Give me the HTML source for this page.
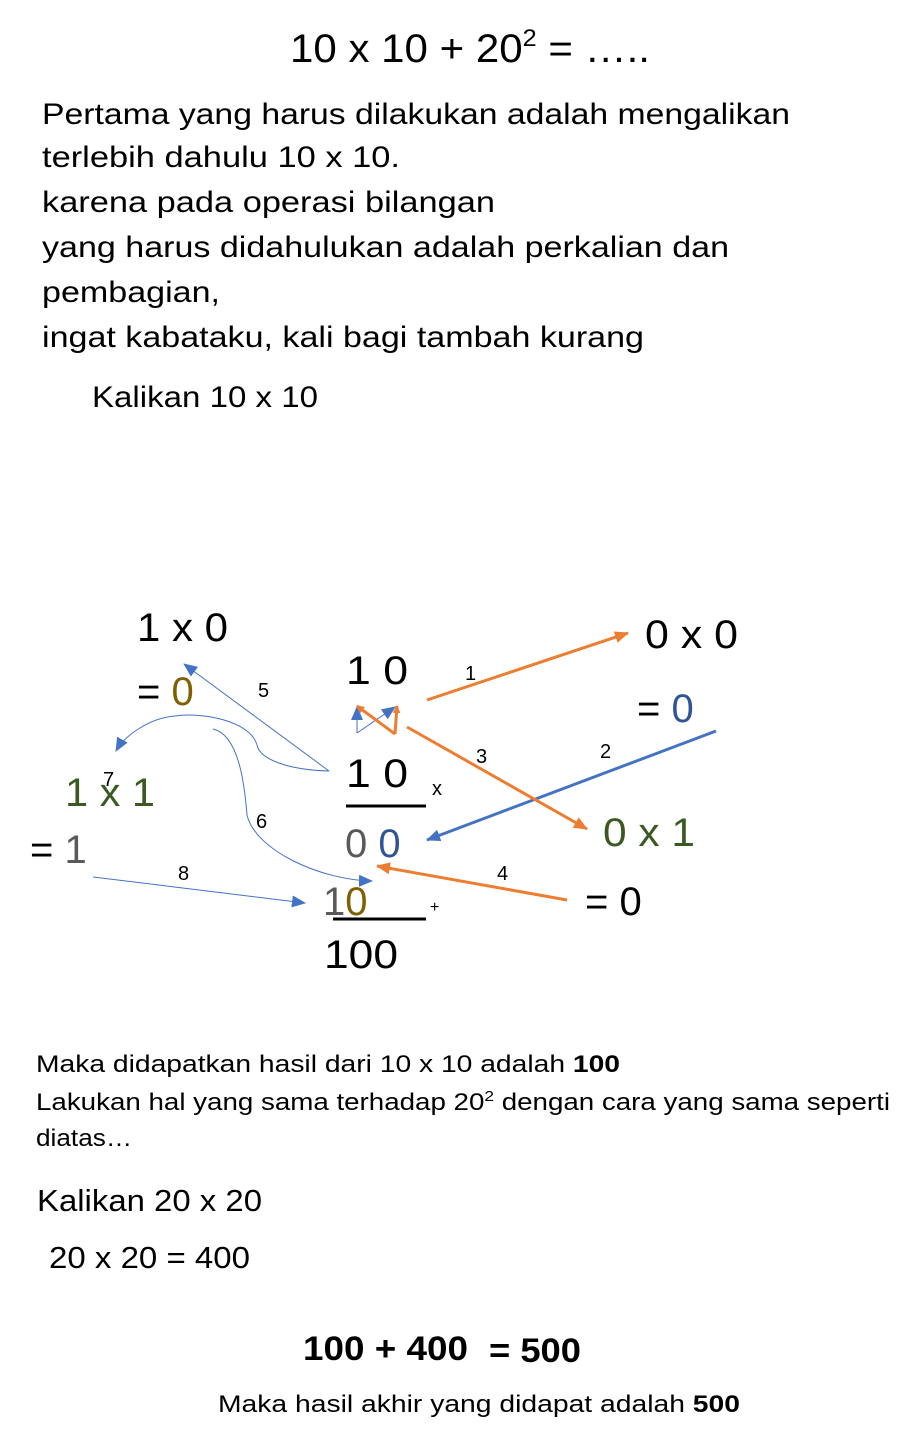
<!DOCTYPE html>
<html><head><meta charset="utf-8"><style>
html,body{margin:0;padding:0;background:#fff;}
svg{display:block;font-family:"Liberation Sans",sans-serif;}
</style></head><body>
<svg width="921" height="1440" viewBox="0 0 921 1440" xmlns="http://www.w3.org/2000/svg">
<defs>
<marker id="ao" markerWidth="8" markerHeight="8" refX="7" refY="4" orient="auto" markerUnits="userSpaceOnUse"><path d="M0,0 L8,4 L0,8 z" fill="#ed7d31"/></marker>
<marker id="ab" markerWidth="14" markerHeight="12" refX="13" refY="6" orient="auto" markerUnits="userSpaceOnUse"><path d="M0,0 L14,6 L0,12 z" fill="#4472c4"/></marker>
<marker id="ao2" markerWidth="14" markerHeight="12" refX="13" refY="6" orient="auto" markerUnits="userSpaceOnUse"><path d="M0,0 L14,6 L0,12 z" fill="#ed7d31"/></marker>
</defs>
<g font-size="40">
<text x="290" y="62" textLength="360" lengthAdjust="spacingAndGlyphs">10 x 10 + 20<tspan font-size="24" dy="-16">2</tspan><tspan dy="16"> = …..</tspan></text>
</g>
<g font-size="30">
<text x="42" y="124" textLength="748" lengthAdjust="spacingAndGlyphs">Pertama yang harus dilakukan adalah mengalikan</text>
<text x="42" y="167" textLength="358" lengthAdjust="spacingAndGlyphs">terlebih dahulu 10 x 10.</text>
<text x="42" y="212" textLength="453" lengthAdjust="spacingAndGlyphs">karena pada operasi  bilangan</text>
<text x="42" y="257" textLength="687" lengthAdjust="spacingAndGlyphs">yang harus didahulukan adalah perkalian dan</text>
<text x="42" y="302" textLength="178" lengthAdjust="spacingAndGlyphs">pembagian,</text>
<text x="42" y="347" textLength="602" lengthAdjust="spacingAndGlyphs">ingat kabataku, kali bagi tambah kurang</text>
<text x="92" y="407" textLength="226" lengthAdjust="spacingAndGlyphs">Kalikan 10 x 10</text>
</g>
<g font-size="40">
<text x="137" y="641" textLength="91" lengthAdjust="spacingAndGlyphs">1 x 0</text>
<text x="137" y="705">= <tspan fill="#7f6000">0</tspan></text>
<text x="346" y="684" textLength="62" lengthAdjust="spacingAndGlyphs">1 0</text>
<text x="645" y="648" textLength="93" lengthAdjust="spacingAndGlyphs">0 x 0</text>
<text x="637" y="722">= <tspan fill="#2f5597">0</tspan></text>
<text x="346" y="787" textLength="62" lengthAdjust="spacingAndGlyphs">1 0</text>
<text x="345" y="857"><tspan fill="#595959">0</tspan> <tspan fill="#2f5597">0</tspan></text>
<text x="603" y="846" fill="#3b5a23" textLength="92" lengthAdjust="spacingAndGlyphs">0 x 1</text>
<text x="65" y="806" fill="#3b5a23" textLength="90" lengthAdjust="spacingAndGlyphs">1 x 1</text>
<text x="30" y="863">= <tspan fill="#595959">1</tspan></text>
<text x="585" y="915">= 0</text>
<text x="323" y="915"><tspan fill="#595959">1</tspan><tspan fill="#7f6000">0</tspan></text>
<text x="324" y="968" textLength="74" lengthAdjust="spacingAndGlyphs">100</text>
<g font-size="20">
<text x="258" y="697">5</text><text x="465" y="680">1</text>
<text x="476" y="763">3</text><text x="600" y="758">2</text>
<text x="432" y="795">x</text><text x="103" y="786">7</text>
<text x="256" y="828">6</text><text x="178" y="880">8</text>
<text x="497" y="880">4</text><text x="430" y="912" font-size="16">+</text>
</g>
<line x1="346" y1="806" x2="426" y2="806" stroke="#000" stroke-width="3"/>
<line x1="333" y1="919" x2="426" y2="919" stroke="#000" stroke-width="3"/>
</g>
<g fill="none">
<line x1="427" y1="700" x2="628" y2="633" stroke="#ed7d31" stroke-width="3" marker-end="url(#ao2)"/>
<line x1="716" y1="731" x2="427" y2="840" stroke="#4472c4" stroke-width="3" marker-end="url(#ab)"/>
<line x1="407" y1="727" x2="587" y2="829" stroke="#ed7d31" stroke-width="3" marker-end="url(#ao2)"/>
<line x1="567" y1="900" x2="377" y2="866" stroke="#ed7d31" stroke-width="3" marker-end="url(#ao2)"/>
<polyline points="357,733 357,707" stroke="#4472c4" stroke-width="1" marker-end="url(#ab)"/>
<polyline points="357,733 395,707" stroke="#4472c4" stroke-width="1" marker-end="url(#ab)"/>
<polyline points="395,734 357,706" stroke="#ed7d31" stroke-width="3" marker-end="url(#ao)"/>
<polyline points="395,734 397,706" stroke="#ed7d31" stroke-width="3" marker-end="url(#ao)"/>
<line x1="329" y1="771" x2="184" y2="664" stroke="#4472c4" stroke-width="1" marker-end="url(#ab)"/>
<path d="M329,771 C290,770 260,760 257,745 C250,720 200,712 175,716 C150,718 125,735 116,751" stroke="#4472c4" stroke-width="1" marker-end="url(#ab)"/>
<path d="M213,729 C240,735 245,790 247,815 C255,850 320,880 372,881" stroke="#4472c4" stroke-width="1" marker-end="url(#ab)"/>
<line x1="93" y1="877" x2="305" y2="903" stroke="#4472c4" stroke-width="1" marker-end="url(#ab)"/>
</g>
<g font-size="24">
<text x="36" y="1072" textLength="584" lengthAdjust="spacingAndGlyphs">Maka didapatkan hasil dari 10 x 10 adalah <tspan font-weight="bold">100</tspan></text>
<text x="36" y="1110" textLength="854" lengthAdjust="spacingAndGlyphs">Lakukan hal yang sama terhadap 20<tspan font-size="15" dy="-9">2</tspan><tspan dy="9"> dengan cara yang sama seperti</tspan></text>
<text x="36" y="1146" textLength="96" lengthAdjust="spacingAndGlyphs">diatas…</text>
<text x="37" y="1211" font-size="31" textLength="225" lengthAdjust="spacingAndGlyphs">Kalikan 20 x 20</text>
<text x="49" y="1268" font-size="31" textLength="201" lengthAdjust="spacingAndGlyphs">20 x 20 = 400</text>
<text x="303" y="1360" font-size="34" font-weight="bold" textLength="165" lengthAdjust="spacingAndGlyphs">100 + 400</text>
<text x="489" y="1362" font-size="34" font-weight="bold" textLength="92" lengthAdjust="spacingAndGlyphs">= 500</text>
<text x="218" y="1412" textLength="522" lengthAdjust="spacingAndGlyphs">Maka hasil akhir yang didapat adalah <tspan font-weight="bold">500</tspan></text>
</g>
</svg>
</body></html>
